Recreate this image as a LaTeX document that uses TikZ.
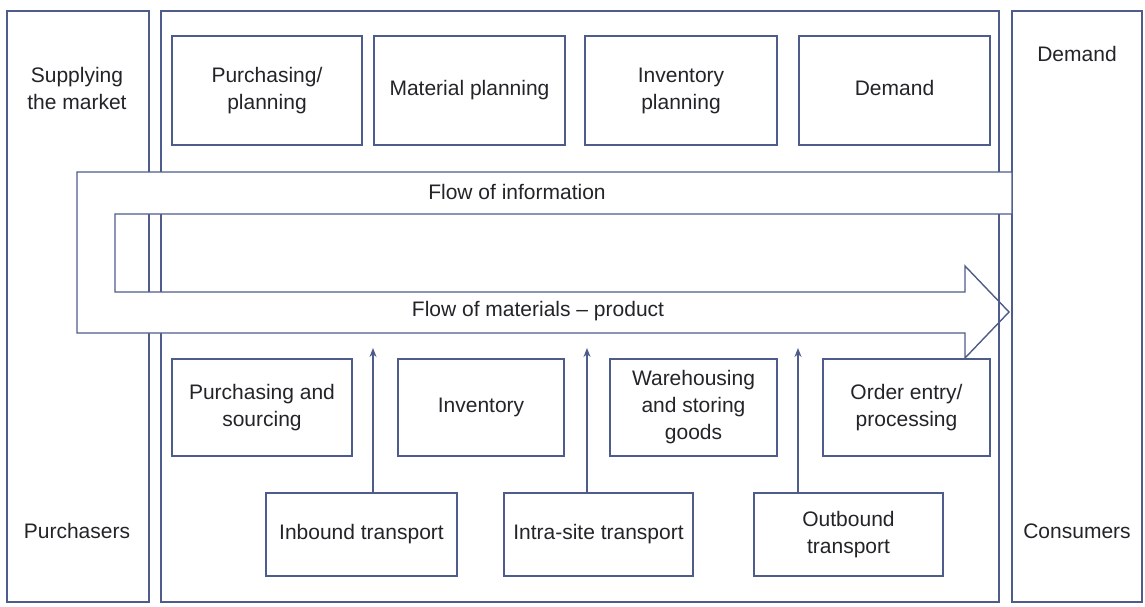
\documentclass[tikz,border=0pt]{standalone}
\usepackage{fontspec}
\setmainfont{Liberation Sans}
\usetikzlibrary{arrows.meta}
\definecolor{linec}{RGB}{78,92,140}
\definecolor{textc}{RGB}{35,35,40}
\begin{document}
\begin{tikzpicture}[x=1pt,y=-1pt,
  every node/.style={font=\fontsize{21}{27}\selectfont, text=textc, align=center},
  panel/.style={draw=linec, line width=1.4pt, rectangle, inner sep=0pt},
  box/.style={draw=linec, line width=1.4pt, rectangle, inner sep=2pt},
  lab/.style={inner sep=0pt},
  band/.style={draw=linec, line width=1.4pt, fill=white, line join=miter},
  arr/.style={draw=linec, line width=1.4pt, -{Stealth[length=9pt,width=7pt]}}]
\useasboundingbox (0,0) rectangle (1145,607);
% panels
\node[panel, minimum width=142, minimum height=591] (left) at (78,306.5) {};
\node[panel, minimum width=838, minimum height=591] (mid) at (580,306.5) {};
\node[panel, minimum width=130, minimum height=591] (right) at (1077,306.5) {};
\node[lab] (supply) at (77,88) {Supplying\\the market};
\node[lab] (purch) at (77,531) {Purchasers};
\node[lab] (dem) at (1077,54) {Demand};
\node[lab] (cons) at (1077,531) {Consumers};
% top boxes
\node[box, minimum width=190, minimum height=109] (pp) at (267,90.5) {Purchasing/\\planning};
\node[box, minimum width=191, minimum height=109] (mp) at (469.5,90.5) {Material planning};
\node[box, minimum width=192, minimum height=109] (ip) at (681,90.5) {Inventory\\planning};
\node[box, minimum width=191, minimum height=109] (dm) at (894.5,90.5) {Demand\vphantom{g}};
% flow band
\coordinate (bandlow) at (999,214);
\coordinate (bandbot) at (999,336);
\draw[band] (77,172) -- (1012,172) -- (1012,214) -- (115,214) -- (115,292) -- (965,292)
  -- (965,266) -- (1009,312) -- (965,358) -- (965,333) -- (77,333) -- cycle;
\draw[draw=linec, line width=1.4pt] (bandbot) -- (bandlow);
\node[lab] (info) at (517,192) {Flow of information};
\node[lab] (mat) at (538,311) {Flow of materials – product};
% row 1
\node[box, minimum width=180, minimum height=97] (ps) at (262,407.5) {Purchasing and\\sourcing};
\node[box, minimum width=166, minimum height=97] (inv) at (481,407.5) {Inventory};
\node[box, minimum width=167, minimum height=97] (wh) at (693.5,407.5) {Warehousing\\and storing\\goods};
\node[box, minimum width=167, minimum height=97] (oe) at (906.5,407.5) {Order entry/\\processing};
% row 2
\node[box, minimum width=191, minimum height=83] (ib) at (361.5,534.5) {Inbound transport};
\node[box, minimum width=189, minimum height=83] (is) at (598.5,534.5) {Intra-site transport};
\node[box, minimum width=189, minimum height=83] (ob) at (848.5,534.5) {Outbound\\transport};
% arrows
\coordinate (a1) at (373,348);
\coordinate (a2) at (587,348);
\coordinate (a3) at (798,348);
\draw[arr] (ib.north -| a1) -- (a1);
\draw[arr] (is.north -| a2) -- (a2);
\draw[arr] (ob.north -| a3) -- (a3);
\end{tikzpicture}
\end{document}
